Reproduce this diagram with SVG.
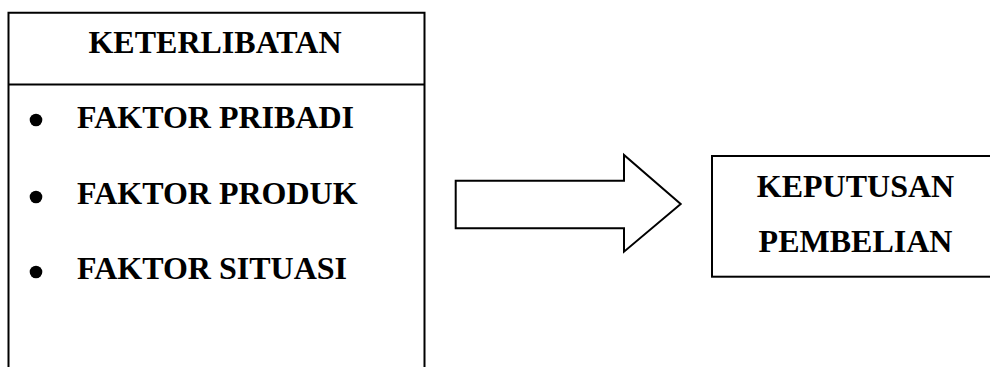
<svg xmlns="http://www.w3.org/2000/svg" width="990" height="367" viewBox="0 0 990 367">
<style>
.box{fill:#fff;stroke:#000;stroke-width:2}
.t{font-family:"Liberation Serif","Times New Roman",serif;font-weight:bold;font-size:32px;fill:#000}
.c{text-anchor:middle}
.b{fill:#000}
</style>
<rect width="990" height="367" fill="#fff"/>
<g id="keterlibatan">
<path class="box" d="M8.5,380 V12.7 H424.5 V380"/>
<line class="box" x1="8.5" y1="84.5" x2="424.5" y2="84.5"/>
<text class="t c" x="215" y="53">KETERLIBATAN</text>
<circle class="b" cx="36" cy="120" r="6.3"/>
<text class="t" x="77" y="128">FAKTOR PRIBADI</text>
<circle class="b" cx="36" cy="197" r="6.3"/>
<text class="t" x="77" y="204">FAKTOR PRODUK</text>
<circle class="b" cx="36" cy="272" r="6.3"/>
<text class="t" x="77" y="279">FAKTOR SITUASI</text>
</g>
<g id="connectors">
<path class="box" d="M455.7,180.7 H624 V155 L680.7,204 L624,251.7 V228.3 H455.7 Z"/>
</g>
<g id="keputusan">
<rect class="box" x="712" y="156" width="300" height="120.7"/>
<text class="t c" x="855.5" y="197.3">KEPUTUSAN</text>
<text class="t c" x="855.5" y="251.7">PEMBELIAN</text>
</g>
</svg>
